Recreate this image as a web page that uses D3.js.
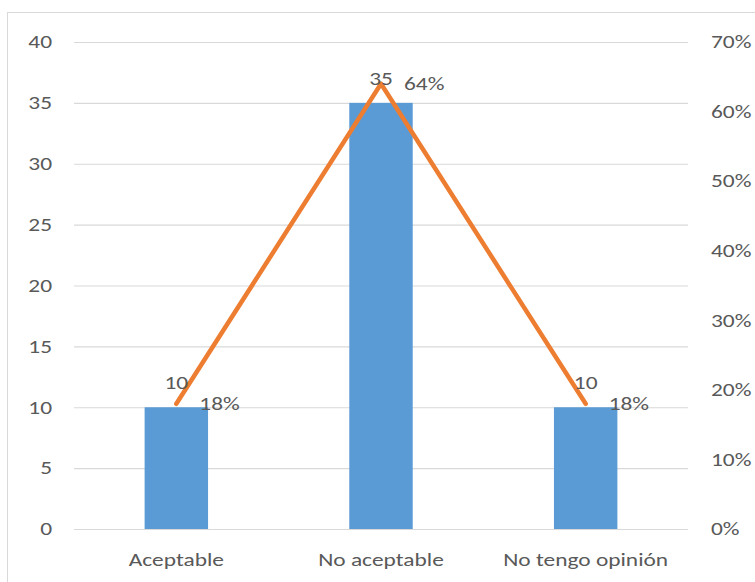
<!DOCTYPE html>
<html><head><meta charset="utf-8">
<script src="https://cdn.jsdelivr.net/npm/d3@7"></script>
<style>body{margin:0;background:#fff}svg{display:block}text{font-family:Carlito,Calibri,Lato,sans-serif;fill:#595959}</style>
</head><body><svg id="c" width="755" height="582"></svg>
<script>
const categories = ["Aceptable", "No aceptable", "No tengo opinión"];
const counts = [10, 35, 10];
const percents = [0.18, 0.64, 0.18];
const percentLabels = ["18%", "64%", "18%"];
const leftTicks = [0, 5, 10, 15, 20, 25, 30, 35, 40];
const rightTicks = [0, 0.1, 0.2, 0.3, 0.4, 0.5, 0.6, 0.7];

const SX = 1.3;
function stretch(sel) {
  sel.each(function () {
    const t = d3.select(this);
    const xv = +t.attr("x") || 0;
    t.attr("x", xv / SX).attr("transform", `scale(${SX},1)`);
  });
}

const svg = d3.select("#c");
const L = 74, R = 688, T = 42, B = 529;
svg.append("rect").attr("x", 7.5).attr("y", 12.5).attr("width", 800).attr("height", 800)
  .attr("fill", "none").attr("stroke", "#D9D9D9");

const x = d3.scaleBand().domain(categories).range([L, R]).padding(0);
const y = d3.scaleLinear().domain([0, 40]).range([B, T]);
const y2 = d3.scaleLinear().domain([0, 0.7]).range([B, T]);

// gridlines
svg.append("g").selectAll("line").data(leftTicks).join("line")
  .attr("x1", L).attr("x2", R).attr("y1", d => y(d) + 0.5).attr("y2", d => y(d) + 0.5)
  .attr("stroke", "#D9D9D9").attr("stroke-width", 1.2);

// left axis
const ax = d3.axisLeft(y).tickValues(leftTicks).tickSize(0).tickPadding(22);
const gL = svg.append("g").attr("transform", `translate(${L},0)`).call(ax);
gL.select(".domain").remove();
gL.selectAll("text").style("font-size", "18px").attr("fill", "#595959").call(stretch);

// right axis
const ax2 = d3.axisRight(y2).tickValues(rightTicks).tickFormat(d3.format(".0%")).tickSize(0).tickPadding(23);
const gR = svg.append("g").attr("transform", `translate(${R},0)`).call(ax2);
gR.select(".domain").remove();
gR.selectAll("text").style("font-size", "18px").attr("fill", "#595959").call(stretch);

// bottom axis
const axB = d3.axisBottom(x).tickSize(0).tickPadding(24);
const gB = svg.append("g").attr("transform", `translate(0,${B})`).call(axB);
gB.select(".domain").remove();
gB.selectAll("text").style("font-size", "18px").attr("fill", "#595959").call(stretch);

// bars
const bw = x.bandwidth() * 0.31;
svg.append("g").selectAll("rect").data(categories).join("rect")
  .attr("x", d => x(d) + x.bandwidth() / 2 - bw / 2)
  .attr("width", bw)
  .attr("y", (d, i) => y(counts[i]))
  .attr("height", (d, i) => B - y(counts[i]))
  .attr("fill", "#5B9BD5");

// line
const cx = d => x(d) + x.bandwidth() / 2;
const line = d3.line().x(d => cx(d.c)).y(d => y2(d.p));
const lineData = categories.map((c, i) => ({c, p: percents[i]}));
svg.append("path").datum(lineData).attr("d", line)
  .attr("fill", "none").attr("stroke", "#ED7D31").attr("stroke-width", 4.5)
  .attr("stroke-linejoin", "round").attr("stroke-linecap", "round");

// bar labels
svg.append("g").selectAll("text").data(categories).join("text")
  .attr("x", d => cx(d)).attr("y", (d, i) => y(counts[i]) - 18)
  .attr("text-anchor", "middle").style("font-size", "18px").attr("fill", "#404040")
  .text((d, i) => counts[i]).call(stretch);

// percent labels
svg.append("g").selectAll("text").data(categories).join("text")
  .attr("x", d => cx(d) + 23).attr("y", (d, i) => y2(percents[i]))
  .attr("dy", "0.35em").style("font-size", "18px").attr("fill", "#404040")
  .text((d, i) => percentLabels[i]).call(stretch);
</script></body></html>
